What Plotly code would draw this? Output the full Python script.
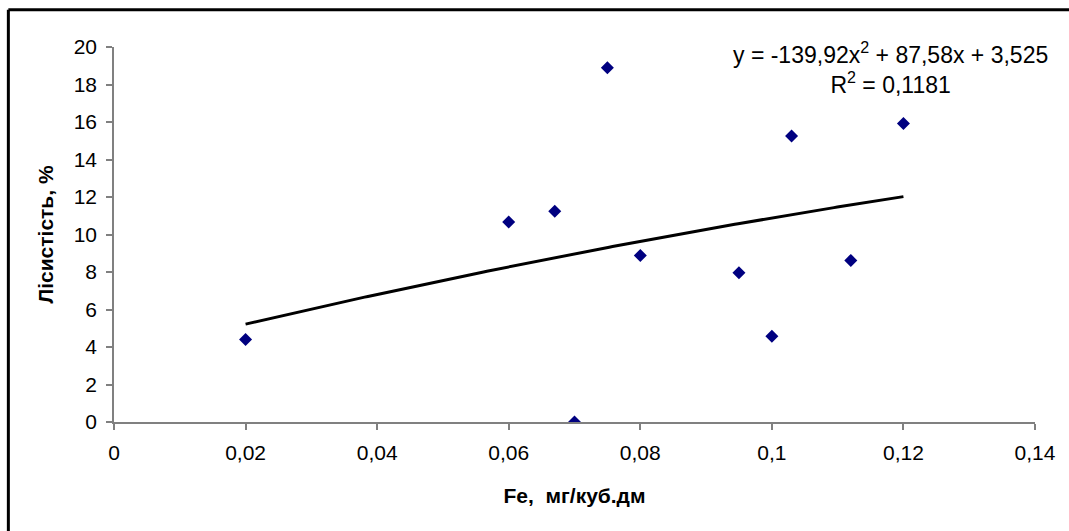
import plotly.graph_objects as go
import numpy as np

# Data
fe = [0.02, 0.06, 0.067, 0.07, 0.075, 0.08, 0.095, 0.1, 0.103, 0.112, 0.12]
forest = [4.4, 10.67, 11.24, 0.0, 18.9, 8.88, 7.96, 4.58, 15.26, 8.62, 15.92]

# Polynomial trendline coefficients (as displayed)
a2, a1, a0 = -139.92, 87.58, 3.525
r2_text = "0,1181"

x_tick_vals = [0, 0.02, 0.04, 0.06, 0.08, 0.1, 0.12, 0.14]
x_tick_text = ["0", "0,02", "0,04", "0,06", "0,08", "0,1", "0,12", "0,14"]
y_tick_vals = [0, 2, 4, 6, 8, 10, 12, 14, 16, 18, 20]

xt = np.linspace(min(fe), max(fe), 200)
yt = a2 * xt**2 + a1 * xt + a0

FONT = "Liberation Sans, Arial, sans-serif"

fig = go.Figure()
fig.add_trace(go.Scatter(x=xt, y=yt, mode="lines",
                         line=dict(color="black", width=3), hoverinfo="skip"))
fig.add_trace(go.Scatter(x=fe, y=forest, mode="markers",
                         marker=dict(symbol="diamond", size=10, color="#000080",
                                     line=dict(width=0))))

axis_common = dict(showgrid=False, zeroline=False, showline=True, linecolor="#808080",
                   linewidth=1.5, ticks="outside", ticklen=6, tickcolor="#808080",
                   tickwidth=1.5, tickfont=dict(family=FONT, size=21, color="black"))

fig.update_xaxes(range=[0, 0.14], tickvals=x_tick_vals, ticktext=x_tick_text,
                 ticklabelstandoff=5,
                 title=dict(text="<b>Fe,  мг/куб.дм</b>", font=dict(family=FONT, size=21, color="black"),
                            standoff=25),
                 **axis_common)
fig.update_yaxes(range=[0, 20], tickvals=y_tick_vals,
                 ticklabelstandoff=5,
                 title=dict(text="<b>Лісистість, %</b>", font=dict(family=FONT, size=21, color="black"),
                            standoff=14),
                 **axis_common)

eq = (f"y = {a2:.2f}x<sup>2</sup> + {a1:.2f}x + {a0:.3f}".replace(".", ",")
      + f"<br>R<sup>2</sup> = {r2_text}")
fig.add_annotation(x=0.843, y=0.945, xref="paper", yref="paper", text=eq, showarrow=False,
                   xanchor="center", yanchor="middle", align="center",
                   font=dict(family=FONT, size=23, color="black"))

# Outer chart border (partially visible: top and left edges)
fig.add_shape(type="line", xref="paper", yref="paper", x0=-0.1147, x1=1.2, y0=1.0996, y1=1.0996,
              line=dict(color="black", width=3))
fig.add_shape(type="line", xref="paper", yref="paper", x0=-0.1147, x1=-0.1147, y0=-0.5, y1=1.0996,
              line=dict(color="black", width=3))

fig.update_layout(width=1069, height=531, showlegend=False,
                  paper_bgcolor="white", plot_bgcolor="white",
                  margin=dict(l=114, r=34, t=47, b=109),
                  font=dict(family=FONT, color="black"))

fig.write_html("out.html", config={"displayModeBar": False},
               post_script="document.body.style.margin='0px';document.body.style.overflow='hidden';")
